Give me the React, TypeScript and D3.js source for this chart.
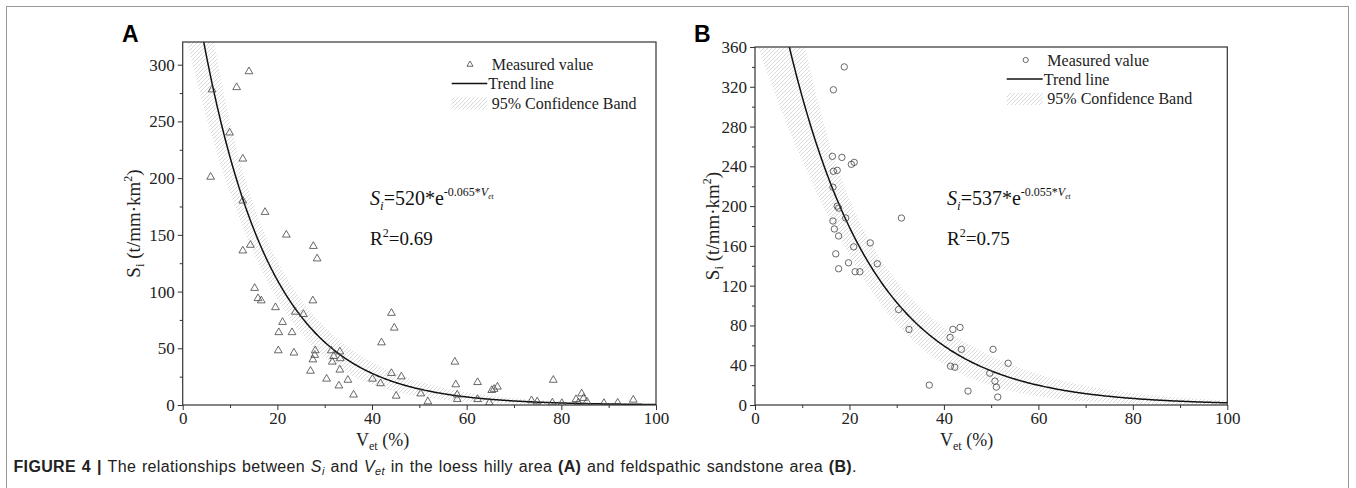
import React, { useEffect, useRef } from "react";
import * as d3 from "d3";

// panel A: loess hilly area (triangles)
const vetA = [14.0, 6.2, 11.4, 9.9, 12.7, 5.9, 12.7, 17.4, 21.9, 27.6, 14.3, 12.7, 28.4, 15.2, 15.9, 16.6, 27.5, 19.6, 23.8, 25.5, 21.1, 20.3, 23.1, 20.2, 23.5, 28.0, 27.9, 27.5, 27.0, 31.4, 31.9, 33.2, 33.3, 31.6, 33.2, 30.4, 33.0, 34.9, 36.1, 40.1, 41.8, 42.0, 44.1, 44.7, 44.1, 46.2, 45.1, 50.3, 51.8, 57.5, 57.7, 58.0, 58.0, 62.3, 62.3, 64.8, 65.3, 65.8, 66.5, 73.7, 74.9, 78.3, 78.1, 80.1, 83.1, 84.3, 83.6, 85.4, 89.0, 91.9, 95.2, 84.7];
const siA = [294, 278, 280, 240, 217, 201, 180, 170, 150, 140, 141, 136, 129, 103, 94, 92, 92, 86, 82, 80, 73, 64, 64, 48, 46, 48, 44, 40, 30, 48, 43, 47, 41, 38, 31, 23, 17, 22, 9, 23, 19, 55, 81, 68, 28, 25, 8, 10, 3, 38, 18, 9, 5, 20, 5, 2, 13, 14, 16, 4, 3, 22, 2, 1.6, 5, 10, 2, 3, 1.6, 1.9, 4.5, 6];

// panel B: feldspathic sandstone area (circles)
const vetB = [18.9, 16.6, 16.4, 18.4, 20.4, 21.0, 16.6, 17.4, 16.5, 17.4, 17.7, 19.2, 31.0, 16.5, 16.8, 17.7, 24.4, 20.9, 17.1, 25.9, 19.8, 17.7, 21.2, 22.2, 30.4, 32.6, 36.9, 41.9, 43.4, 41.3, 43.7, 41.4, 42.3, 45.1, 50.4, 53.6, 49.7, 50.8, 51.1, 51.4];
const siB = [340, 317, 250, 249, 242, 244, 235, 236, 219, 200, 198, 188, 188, 185, 177, 170, 163, 159, 152, 142, 143, 137, 134, 134, 96, 76, 20, 76, 78, 68, 56, 39, 38, 14, 56, 42, 32, 24, 18, 8];

// trend / confidence band parameters
const trendA = { a: 434, b: 0.0686, p: 0.018, q: 1.57e-4, x0: 14 };
const trendB = { a: 537, b: 0.055, p: 0.025, q: 1.8e-4, x0: 20 };

const xTicks = [0, 20, 40, 60, 80, 100];
const xMinor = [10, 30, 50, 70, 90];
const yTicksA = [0, 50, 100, 150, 200, 250, 300];
const yMinorA = [25, 75, 125, 175, 225, 275];
const yTicksB = [0, 40, 80, 120, 160, 200, 240, 280, 320, 360];
const yMinorB = [20, 60, 100, 140, 180, 220, 260, 300, 340];

const serif = "'Liberation Serif', 'Times New Roman', serif";
const sans = "'Liberation Sans', Arial, sans-serif";

const drawPanel = (svg, cfg) => {
  const x = d3.scaleLinear().domain([0, 100]).range([cfg.left, cfg.right]);
  const y = d3.scaleLinear().domain([0, cfg.ymax]).range([cfg.bottom, cfg.top]);
  const g = svg.append("g");

  const clipId = "clip" + cfg.id;
  svg
    .append("clipPath")
    .attr("id", clipId)
    .append("rect")
    .attr("x", cfg.left)
    .attr("y", cfg.top)
    .attr("width", cfg.right - cfg.left)
    .attr("height", cfg.bottom - cfg.top);

  const t = cfg.trend;
  const f = (v) => t.a * Math.exp(-t.b * v);
  const hw = (v) => f(v) * Math.sqrt(t.p + t.q * (v - t.x0) * (v - t.x0));
  const xs = d3.range(0, 100.01, 0.25);

  const plot = g.append("g").attr("clip-path", `url(#${clipId})`);
  plot
    .append("path")
    .datum(xs)
    .attr("fill", "url(#hatch)")
    .attr(
      "d",
      d3
        .area()
        .x((v) => x(v))
        .y0((v) => y(Math.max(0, f(v) - hw(v))))
        .y1((v) => y(f(v) + hw(v)))
    );
  plot
    .append("path")
    .datum(xs)
    .attr("fill", "none")
    .attr("stroke", "#111")
    .attr("stroke-width", 1.5)
    .attr(
      "d",
      d3
        .line()
        .x((v) => x(v))
        .y((v) => y(f(v)))
    );

  // measured values
  const pts = cfg.vx.map((v, i) => [v, cfg.vy[i]]);
  if (cfg.marker === "triangle") {
    plot
      .selectAll("path.pt")
      .data(pts)
      .enter()
      .append("path")
      .attr("d", d3.symbol(d3.symbolTriangle, 26)())
      .attr("transform", (d) => `translate(${x(d[0])},${y(d[1])})`)
      .attr("fill", "none")
      .attr("stroke", "#444")
      .attr("stroke-width", 0.8);
  } else {
    plot
      .selectAll("circle.pt")
      .data(pts)
      .enter()
      .append("circle")
      .attr("cx", (d) => x(d[0]))
      .attr("cy", (d) => y(d[1]))
      .attr("r", 3.2)
      .attr("fill", "none")
      .attr("stroke", "#444")
      .attr("stroke-width", 0.8);
  }

  // axes
  const styleAxis = (a) => {
    a.select(".domain").remove();
    a.selectAll("line").attr("stroke", "#333");
    a.selectAll("text").attr("font-family", serif).attr("font-size", 17).attr("fill", "#222");
  };
  g.append("g")
    .attr("transform", `translate(0,${cfg.bottom})`)
    .call(d3.axisBottom(x).tickValues(xTicks).tickSize(5).tickPadding(2))
    .call(styleAxis);
  g.append("g")
    .attr("transform", `translate(0,${cfg.bottom})`)
    .call(d3.axisBottom(x).tickValues(xMinor).tickSize(3).tickFormat(() => ""))
    .call(styleAxis);
  g.append("g")
    .attr("transform", `translate(${cfg.left},0)`)
    .call(d3.axisLeft(y).tickValues(cfg.yTicks).tickSize(5).tickPadding(3))
    .call(styleAxis);
  g.append("g")
    .attr("transform", `translate(${cfg.left},0)`)
    .call(d3.axisLeft(y).tickValues(cfg.yMinor).tickSize(3).tickFormat(() => ""))
    .call(styleAxis);

  g.append("rect")
    .attr("x", cfg.left)
    .attr("y", cfg.top)
    .attr("width", cfg.right - cfg.left)
    .attr("height", cfg.bottom - cfg.top)
    .attr("fill", "none")
    .attr("stroke", "#333")
    .attr("stroke-width", 1.2);

  // panel letter
  g.append("text")
    .attr("x", cfg.letterX)
    .attr("y", 42)
    .attr("font-family", sans)
    .attr("font-weight", "bold")
    .attr("font-size", 23)
    .text(cfg.id);

  // axis titles
  const yl = g
    .append("text")
    .attr("transform", `translate(${cfg.ylabelX},${(cfg.top + cfg.bottom) / 2}) rotate(-90)`)
    .attr("text-anchor", "middle")
    .attr("font-family", serif)
    .attr("font-size", 19)
    .attr("fill", "#222");
  yl.append("tspan").text("S");
  yl.append("tspan").attr("font-size", 13).attr("dy", 4).text("i");
  yl.append("tspan").attr("dy", -4).text(" (t/mm·km");
  yl.append("tspan").attr("font-size", 12).attr("dy", -8).text("2");
  yl.append("tspan").attr("dy", 8).text(")");

  const xl = g
    .append("text")
    .attr("x", cfg.xlabelX)
    .attr("y", cfg.bottom + 41)
    .attr("font-family", serif)
    .attr("font-size", 18)
    .attr("fill", "#222");
  xl.append("tspan").text("V");
  xl.append("tspan").attr("font-size", 12).attr("dy", 4).text("et");
  xl.append("tspan").attr("dy", -4).text(" (%)");

  // equation
  const eq = g
    .append("text")
    .attr("x", cfg.eqX)
    .attr("y", cfg.eqY)
    .attr("font-family", serif)
    .attr("font-size", 20)
    .attr("fill", "#111");
  eq.append("tspan").attr("font-style", "italic").text("S");
  eq.append("tspan").attr("font-style", "italic").attr("font-size", 13).attr("dy", 5).text("i");
  eq.append("tspan").attr("dy", -5).text(`=${cfg.eqA}*e`);
  eq.append("tspan").attr("font-size", 12).attr("dy", -9).text(`-${cfg.eqB}*`);
  eq.append("tspan").attr("font-size", 12).attr("font-style", "italic").text("V");
  eq.append("tspan").attr("font-size", 7.5).attr("font-style", "italic").attr("dy", 3).text("et");

  const r2 = g
    .append("text")
    .attr("x", cfg.eqX)
    .attr("y", cfg.eqY + 40)
    .attr("font-family", serif)
    .attr("font-size", 19)
    .attr("fill", "#111");
  r2.append("tspan").text("R");
  r2.append("tspan").attr("font-size", 12).attr("dy", -8).text("2");
  r2.append("tspan").attr("dy", 8).text(`=${cfg.r2}`);

  // legend
  const lg = g.append("g").attr("font-family", serif).attr("font-size", 16).attr("fill", "#222");
  const L = cfg.legend;
  if (cfg.marker === "triangle") {
    lg.append("path")
      .attr("d", d3.symbol(d3.symbolTriangle, 16)())
      .attr("transform", `translate(${L.symX},${L.y0})`)
      .attr("fill", "none")
      .attr("stroke", "#444")
      .attr("stroke-width", 0.8);
  } else {
    lg.append("circle")
      .attr("cx", L.symX)
      .attr("cy", L.y0)
      .attr("r", 2.6)
      .attr("fill", "none")
      .attr("stroke", "#444")
      .attr("stroke-width", 0.8);
  }
  lg.append("text").attr("x", L.textX).attr("y", L.y0 + 5.5).text("Measured value");
  lg.append("line")
    .attr("x1", L.lineX0)
    .attr("x2", L.lineX1)
    .attr("y1", L.y0 + 19)
    .attr("y2", L.y0 + 19)
    .attr("stroke", "#111")
    .attr("stroke-width", 1.5);
  lg.append("text").attr("x", L.lineX1 + 1).attr("y", L.y0 + 24.5).text("Trend line");
  lg.append("rect")
    .attr("x", L.lineX0)
    .attr("y", L.y0 + 33)
    .attr("width", L.lineX1 - L.lineX0)
    .attr("height", 12)
    .attr("fill", "url(#hatch)");
  lg.append("text").attr("x", L.textX).attr("y", L.y0 + 44).text("95% Confidence Band");
};

const App = () => {
  const ref = useRef(null);

  useEffect(() => {
    const svg = d3.select(ref.current);
    svg.selectAll("*").remove();

    const pat = svg
      .append("defs")
      .append("pattern")
      .attr("id", "hatch")
      .attr("patternUnits", "userSpaceOnUse")
      .attr("width", 4)
      .attr("height", 4);
    pat.append("rect").attr("width", 4).attr("height", 4).attr("fill", "#fff");
    pat
      .append("path")
      .attr("d", "M-1,1 l2,-2 M0,4 l4,-4 M3,5 l2,-2")
      .attr("stroke", "#cfcfcf")
      .attr("stroke-width", 0.8);

    // figure frame
    svg
      .append("rect")
      .attr("x", 6.5)
      .attr("y", 6.5)
      .attr("width", 1342)
      .attr("height", 495)
      .attr("fill", "none")
      .attr("stroke", "#999")
      .attr("stroke-width", 1);

    drawPanel(svg, {
      id: "A",
      left: 182.7,
      right: 656,
      top: 42,
      bottom: 405,
      ymax: 320,
      yTicks: yTicksA,
      yMinor: yMinorA,
      vx: vetA,
      vy: siA,
      marker: "triangle",
      trend: trendA,
      letterX: 122,
      ylabelX: 140,
      xlabelX: 356,
      eqX: 370,
      eqY: 205,
      eqA: "520",
      eqB: "0.065",
      r2: "0.69",
      legend: { symX: 470, textX: 491.7, lineX0: 451.7, lineX1: 487.3, y0: 64.5 },
    });

    drawPanel(svg, {
      id: "B",
      left: 755,
      right: 1227.3,
      top: 47,
      bottom: 405,
      ymax: 360,
      yTicks: yTicksB,
      yMinor: yMinorB,
      vx: vetB,
      vy: siB,
      marker: "circle",
      trend: trendB,
      letterX: 694,
      ylabelX: 719,
      xlabelX: 940,
      eqX: 947,
      eqY: 205,
      eqA: "537",
      eqB: "0.055",
      r2: "0.75",
      legend: { symX: 1025.7, textX: 1047.3, lineX0: 1006.7, lineX1: 1042.7, y0: 60 },
    });

    // caption
    const cap = svg
      .append("text")
      .attr("x", 13.5)
      .attr("y", 472)
      .attr("font-family", sans)
      .attr("font-size", 16)
      .attr("letter-spacing", 0.35)
      .attr("word-spacing", 1)
      .attr("fill", "#222");
    cap.append("tspan").attr("font-weight", "bold").text("FIGURE 4 | ");
    cap.append("tspan").text("The relationships between ");
    cap.append("tspan").attr("font-style", "italic").text("S");
    cap.append("tspan").attr("font-style", "italic").attr("font-size", 11).attr("dy", 3).text("i");
    cap.append("tspan").attr("dy", -3).text(" and ");
    cap.append("tspan").attr("font-style", "italic").text("V");
    cap.append("tspan").attr("font-style", "italic").attr("font-size", 11).attr("dy", 3).text("et");
    cap.append("tspan").attr("dy", -3).text(" in the loess hilly area ");
    cap.append("tspan").attr("font-weight", "bold").text("(A)");
    cap.append("tspan").text(" and feldspathic sandstone area ");
    cap.append("tspan").attr("font-weight", "bold").text("(B)");
    cap.append("tspan").text(".");
  }, []);

  return (
    <div style={{ position: "absolute", left: 0, top: 0 }}>
      <svg ref={ref} width={1356} height={488} style={{ display: "block", background: "#fff" }}></svg>
    </div>
  );
};

export default App;
